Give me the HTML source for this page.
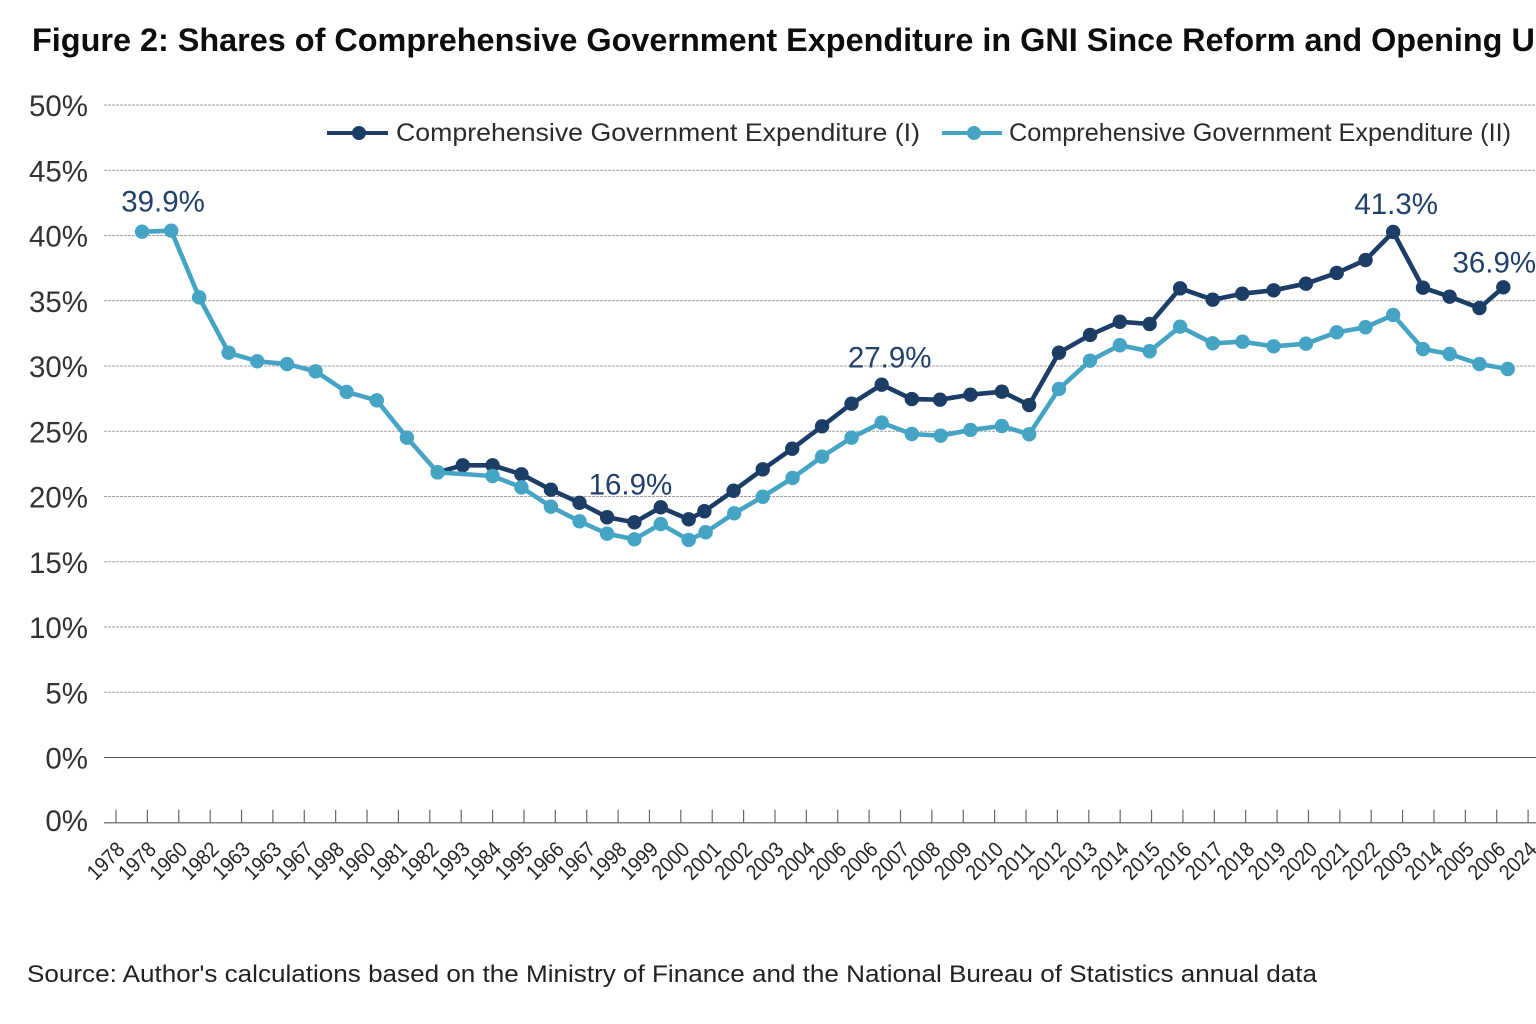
<!DOCTYPE html>
<html lang="en">
<head>
<meta charset="utf-8">
<title>Figure 2: Shares of Comprehensive Government Expenditure in GNI</title>
<style>
  html, body { margin: 0; padding: 0; background: #fff; }
  body { width: 1536px; height: 1024px; overflow: hidden; }
  svg { display: block; font-family: "Liberation Sans", Arial, sans-serif; }
</style>
</head>
<body>
<svg id="chart" width="1536" height="1024" viewBox="0 0 1536 1024" xmlns="http://www.w3.org/2000/svg">
  <rect x="0" y="0" width="1536" height="1024" fill="#ffffff"/>
  <text x="32" y="51" font-size="32.4" font-weight="700" fill="#0d0d0d">Figure 2: Shares of Comprehensive Government Expenditure in GNI Since Reform and Opening Up</text>
  <g id="grid"></g>
  <g id="yaxis"></g>
  <g id="xaxis"></g>
  <g id="series"></g>
  <g id="notes"></g>
  <g>
    <g>
      <line x1="327" y1="133" x2="388" y2="133" stroke="#1c3d66" stroke-width="4"/>
      <circle cx="359" cy="133" r="7" fill="#1c3d66"/>
      <text x="396" y="141" font-size="25" fill="#2b2b2b" textLength="524" lengthAdjust="spacingAndGlyphs">Comprehensive Government Expenditure (I)</text>
    </g>
    <g>
      <line x1="942" y1="133" x2="1002" y2="133" stroke="#45a3c4" stroke-width="4"/>
      <circle cx="974" cy="133" r="7" fill="#45a3c4"/>
      <text x="1009" y="141" font-size="25" fill="#2b2b2b" textLength="502" lengthAdjust="spacingAndGlyphs">Comprehensive Government Expenditure (II)</text>
    </g>
  </g>
  <text x="27" y="982" font-size="24.5" fill="#222222" textLength="1290" lengthAdjust="spacingAndGlyphs">Source: Author's calculations based on the Ministry of Finance and the National Bureau of Statistics annual data</text>
</svg>
<script>
// Category labels exactly as printed on the x axis
var categories = ["1978","1978","1960","1982","1963","1963","1967","1998","1960","1981","1982","1993","1984","1995","1966","1967","1998","1999","2000","2001","2002","2003","2004","2006","2006","2007","2008","2009","2010","2011","2012","2013","2014","2015","2016","2017","2018","2019","2020","2021","2022","2003","2014","2005","2006","2024"];

// Y axis tick values and their printed labels (the last one is the printed lower "0%" on the x-axis line)
var yTickValues = [50,45,40,35,30,25,20,15,10,5,0,-5];
var yTickLabels = ["50%","45%","40%","35%","30%","25%","20%","15%","10%","5%","0%","0%"];

// Series I: category-axis location of each point, and its share (%)
var seriesIAt = [10.25,11.05,12.00,12.92,13.86,14.77,15.65,16.52,17.36,18.25,18.75,19.68,20.61,21.55,22.50,23.44,24.40,25.36,26.26,27.23,28.23,29.10,30.05,31.04,31.99,32.94,33.91,34.95,35.89,36.89,37.92,38.90,39.82,40.70,41.65,42.50,43.45,44.21];
var seriesIValues = [21.85,22.39,22.39,21.70,20.52,19.52,18.41,18.02,19.17,18.25,18.87,20.44,22.08,23.66,25.38,27.11,28.57,27.47,27.42,27.80,28.03,27.01,31.02,32.38,33.39,33.22,35.95,35.08,35.54,35.80,36.31,37.13,38.12,40.27,36.00,35.31,34.44,36.03];

// Series II: category-axis location of each point, and its share (%)
var seriesIIAt = [0.83,1.76,2.65,3.59,4.50,5.45,6.36,7.35,8.31,9.27,10.25,12.00,12.92,13.86,14.77,15.65,16.52,17.36,18.25,18.79,19.70,20.61,21.56,22.50,23.44,24.40,25.36,26.28,27.23,28.23,29.10,30.05,31.04,31.99,32.94,33.91,34.95,35.90,36.89,37.92,38.90,39.82,40.70,41.65,42.50,43.45,44.35];
var seriesIIValues = [40.29,40.37,35.26,31.02,30.36,30.15,29.59,28.01,27.37,24.51,21.85,21.57,20.70,19.22,18.10,17.15,16.72,17.89,16.67,17.26,18.71,19.98,21.42,23.05,24.51,25.66,24.79,24.66,25.10,25.40,24.77,28.24,30.41,31.59,31.13,33.01,31.74,31.86,31.51,31.71,32.58,32.97,33.91,31.30,30.92,30.15,29.77];

// Printed annotation values
var annotationLabels = ["39.9%","16.9%","27.9%","41.3%","36.9%"];

var SVG_NS = 'http://www.w3.org/2000/svg';
function xScale(p) { return 116 + 31.38 * p; }
function yScale(v) { return 757.5 - 13.05 * v; }
function make(tag, parent) {
  var el = document.createElementNS(SVG_NS, tag);
  parent.appendChild(el);
  return el;
}
var grid = document.getElementById('grid');
var yaxis = document.getElementById('yaxis');
var xaxis = document.getElementById('xaxis');
var seriesGroup = document.getElementById('series');
var notes = document.getElementById('notes');

yTickValues.forEach(function (v, i) {
  var y = yScale(v);
  var label = make('text', yaxis);
  
  
  label.setAttribute('x', 88);
  label.setAttribute('y', y + (v < 0 ? 8 : 11));
  label.setAttribute('text-anchor', 'end');
  label.setAttribute('font-size', '29.5');
  label.setAttribute('fill', '#333333');
  label.textContent = yTickLabels[i];
  if (v < 0) return;
  var line = make('line', grid);
  
  
  line.setAttribute('x1', 104);
  line.setAttribute('x2', 1536);
  line.setAttribute('y1', y);
  line.setAttribute('y2', y);
  line.setAttribute('stroke', v === 0 ? '#555555' : '#a0a0a0');
  line.setAttribute('stroke-width', '1');
  if (v !== 0) line.setAttribute('stroke-dasharray', '3 1');
});

var baseY = yScale(-5);
var axisLine = make('line', xaxis);


axisLine.setAttribute('x1', 104);
axisLine.setAttribute('x2', 1536);
axisLine.setAttribute('y1', baseY);
axisLine.setAttribute('y2', baseY);
axisLine.setAttribute('stroke', '#808080');
axisLine.setAttribute('stroke-width', '1.5');

categories.forEach(function (c, i) {
  var x = xScale(i);
  var tick = make('line', xaxis);
  
  
  tick.setAttribute('x1', x);
  tick.setAttribute('x2', x);
  tick.setAttribute('y1', baseY - 13);
  tick.setAttribute('y2', baseY);
  tick.setAttribute('stroke', '#666666');
  tick.setAttribute('stroke-width', '1.2');
  var label = make('text', xaxis);
  
  
  label.setAttribute('text-anchor', 'end');
  label.setAttribute('font-size', '21.5');
  label.setAttribute('fill', '#262626');
  label.setAttribute('textLength', '43');
  label.setAttribute('lengthAdjust', 'spacingAndGlyphs');
  label.setAttribute('transform', 'translate(' + (x + 10) + ' ' + (baseY + 28) + ') rotate(-45)');
  label.textContent = c;
});

function drawSeries(at, values, color, name) {
  var pts = values.map(function (v, i) { return xScale(at[i]) + ',' + yScale(v); }).join(' ');
  var line = make('polyline', seriesGroup);
  
  
  line.setAttribute('points', pts);
  line.setAttribute('fill', 'none');
  line.setAttribute('stroke', color);
  line.setAttribute('stroke-width', '4.6');
  line.setAttribute('stroke-linejoin', 'round');
  values.forEach(function (v, i) {
    var dot = make('circle', seriesGroup);
    
    
    dot.setAttribute('cx', xScale(at[i]));
    dot.setAttribute('cy', yScale(v));
    dot.setAttribute('r', '7.2');
    dot.setAttribute('fill', color);
  });
}
drawSeries(seriesIAt, seriesIValues, '#1c3d66', 'series-i');
drawSeries(seriesIIAt, seriesIIValues, '#45a3c4', 'series-ii');

function annotate(labelIndex, at, values, pointIndex, dx, dy) {
  var t = make('text', notes);
  
  
  t.setAttribute('x', xScale(at[pointIndex]) + dx);
  t.setAttribute('y', yScale(values[pointIndex]) + dy);
  t.setAttribute('text-anchor', 'middle');
  t.setAttribute('font-size', '29.5');
  t.setAttribute('fill', '#21406a');
  t.textContent = annotationLabels[labelIndex];
}
annotate(0, seriesIIAt, seriesIIValues, 0, 21, -20);
annotate(1, seriesIIAt, seriesIIValues, 16, -4, -45);
annotate(2, seriesIAt, seriesIValues, 16, 8, -17);
annotate(3, seriesIAt, seriesIValues, 33, 3, -18);
annotate(4, seriesIAt, seriesIValues, 37, -9, -15);
</script>
</body>
</html>
